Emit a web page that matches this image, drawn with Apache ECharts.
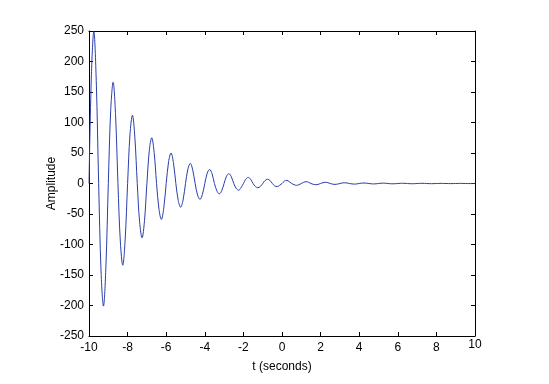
<!DOCTYPE html>
<html><head><meta charset="utf-8">
<script src="https://cdn.jsdelivr.net/npm/echarts@6/dist/echarts.min.js"></script>
<style>html,body{margin:0;padding:0;background:#fff}#c{width:549px;height:384px}</style>
</head><body><div id="c"></div>
<script>
var tValues = [
-10,-9.875,-9.75,-9.625,-9.5,-9.375,-9.25,-9.125,
-9,-8.875,-8.75,-8.625,-8.5,-8.375,-8.25,-8.125,
-8,-7.875,-7.75,-7.625,-7.5,-7.375,-7.25,-7.125,
-7,-6.875,-6.75,-6.625,-6.5,-6.375,-6.25,-6.125,
-6,-5.875,-5.75,-5.625,-5.5,-5.375,-5.25,-5.125,
-5,-4.875,-4.75,-4.625,-4.5,-4.375,-4.25,-4.125,
-4,-3.875,-3.75,-3.625,-3.5,-3.375,-3.25,-3.125,
-3,-2.875,-2.75,-2.625,-2.5,-2.375,-2.25,-2.125,
-2,-1.875,-1.75,-1.625,-1.5,-1.375,-1.25,-1.125,
-1,-0.875,-0.75,-0.625,-0.5,-0.375,-0.25,-0.125,
0,0.125,0.25,0.375,0.5,0.625,0.75,0.875,
1,1.125,1.25,1.375,1.5,1.625,1.75,1.875,
2,2.125,2.25,2.375,2.5,2.625,2.75,2.875,
3,3.125,3.25,3.375,3.5,3.625,3.75,3.875,
4,4.125,4.25,4.375,4.5,4.625,4.75,4.875,
5,5.125,5.25,5.375,5.5,5.625,5.75,5.875,
6,6.125,6.25,6.375,6.5,6.625,6.75,6.875,
7,7.125,7.25,7.375,7.5,7.625,7.75,7.875,
8,8.125,8.25,8.375,8.5,8.625,8.75,8.875,
9,9.125,9.25,9.375,9.5,9.625,9.75,9.875,
10];
var amplitude = [
0,179,249,169,0,-145,-201,-137,
0,120,166,113,0,-96,-134,-91,
0,81,112,76,0,-64,-89,-61,
0,54,75,51,0,-42,-59,-40,
0,36,50,34,0,-28,-39,-27,
0,24,33,22,0,-19,-26,-18,
0,17,23,16,0,-12,-17,-12,
0,12,16,11,0,-8,-11,-7,
0,7,10,7,0,-5,-7,-5,
0,5,7,5,0,-4,-5,-3,
0,4,5,3,0,-2,-3,-2,
0,2,3,2,0,-1.4,-2,-1.4,
0,1.4,2,1.4,0,-1.1,-1.5,-1,
0,0.9,1.2,0.8,0,-0.7,-1,-0.7,
0,0.6,0.8,0.5,0,-0.5,-0.7,-0.5,
0,0.4,0.6,0.4,0,-0.4,-0.5,-0.3,
0,0.3,0.4,0.3,0,-0.3,-0.4,-0.3,
0,0.2,0.3,0.2,0,-0.2,-0.3,-0.2,
0,0.1,0.2,0.1,0,-0.1,-0.2,-0.1,
0,0.1,0.2,0.1,0,-0.1,-0.1,-0.1,
0];
var xTicks = [-10,-8,-6,-4,-2,0,2,4,6,8,10];
var yTicks = [-250,-200,-150,-100,-50,0,50,100,150,200,250];
var xName = 't (seconds)';
var yName = 'Amplitude';

var pts = tValues.map(function(t,i){return [t, amplitude[i]];});
var font = 'Liberation Sans, Arial, sans-serif';
var xMin = xTicks[0], xMax = xTicks[xTicks.length-1];
var yMin = yTicks[0], yMax = yTicks[yTicks.length-1];
function axBase(){
  return {
    axisLine:{show:true,onZero:false,lineStyle:{color:'#000',width:1}},
    axisTick:{show:true,inside:true,length:4,lineStyle:{color:'#000'}},
    splitLine:{show:false}
  };
}
var chart = echarts.init(document.getElementById('c'),null,{renderer:'canvas'});
chart.setOption({
  animation:false,
  backgroundColor:'#fff',
  grid:{left:89,top:31,width:386,height:305,containLabel:false},
  xAxis:[
    Object.assign(axBase(),{type:'value',position:'bottom',min:xMin,max:xMax,interval:2,
      name:xName,nameLocation:'middle',nameGap:25,nameMoveOverlap:false,
      nameTextStyle:{color:'#000',fontSize:12,fontFamily:font},
      axisLabel:{color:'#000',fontSize:12,fontFamily:font,margin:6,
        formatter:function(v){return v===xMax?'':String(v);}}}),
    Object.assign(axBase(),{type:'value',position:'top',min:xMin,max:xMax,interval:2,
      axisLabel:{show:false}}),
    {type:'value',position:'bottom',gridIndex:0,min:xMin,max:xMax,interval:2,
      axisLine:{show:false},axisTick:{show:false},splitLine:{show:false},
      axisLabel:{color:'#000',fontSize:12,fontFamily:font,margin:3,showMaxLabel:true,
        formatter:function(v){return v===xMax?String(v):'';}}}
  ],
  yAxis:[
    Object.assign(axBase(),{type:'value',position:'left',min:yMin,max:yMax,interval:50,
      name:yName,nameLocation:'middle',nameGap:31,nameMoveOverlap:false,
      nameTextStyle:{color:'#000',fontSize:12,fontFamily:font},
      axisLabel:{color:'#000',fontSize:12,fontFamily:font,margin:5}}),
    Object.assign(axBase(),{type:'value',position:'right',min:yMin,max:yMax,interval:50,
      axisLabel:{show:false}})
  ],
  series:[{
    type:'line',data:pts,xAxisIndex:0,yAxisIndex:0,
    showSymbol:false,smooth:0.35,clip:true,
    lineStyle:{color:'#2a3eaa',width:1}
  }]
});
</script></body></html>
